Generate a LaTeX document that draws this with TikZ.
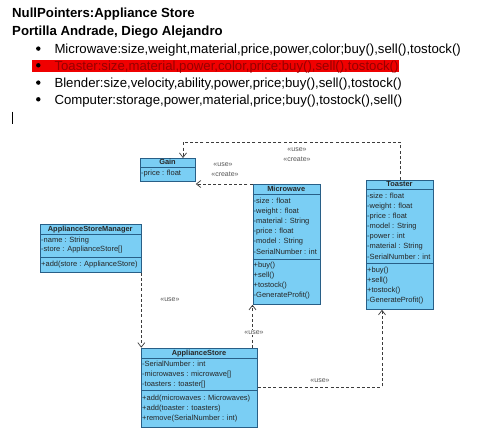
\documentclass[tikz,border=0pt]{standalone}
\usepackage{fontspec}
\setmainfont{Liberation Sans}
\usetikzlibrary{arrows.meta,backgrounds}
\definecolor{clsfill}{RGB}{122,206,244}
\definecolor{clsdraw}{RGB}{40,95,135}
\definecolor{hlred}{RGB}{240,0,0}
\definecolor{hltext}{RGB}{150,0,0}
\definecolor{deptext}{RGB}{85,85,85}
\definecolor{depline}{RGB}{60,60,60}
\tikzset{
  cls/.style={draw=clsdraw, fill=clsfill, line width=0.8pt, inner sep=0pt, anchor=north west},
  sep/.style={draw=clsdraw, line width=0.8pt},
  attr/.style={anchor=west, inner sep=0pt, font=\fontsize{7.5}{8}\selectfont, text height=5.4pt, text depth=1.6pt, text=black!85},
  hdr/.style={inner sep=0pt, font=\fontsize{7.4}{8}\selectfont\bfseries, text height=5.4pt, text depth=1.6pt, text=black!85},
  dep/.style={draw=depline, line width=0.7pt, dash pattern=on 3pt off 2.2pt, -{Straight Barb[length=4.5pt,width=7pt,line width=0.7pt]}},
  deplbl/.style={inner sep=0.6pt, fill=white, font=\fontsize{7}{8}\selectfont, text=deptext},
  title/.style={anchor=base west, inner sep=0pt, font=\fontsize{13.2}{15}\selectfont\bfseries},
  item/.style={anchor=base west, inner sep=0pt, font=\fontsize{13.2}{15}\selectfont},
}
\begin{document}
\begin{tikzpicture}[x=1pt,y=-1pt]
\useasboundingbox (0,0) rectangle (482,440);
% ---------- text block ----------
\node[title] (l1) at (12,17.3) {NullPointers:Appliance Store};
\node[title] (l2) at (12,35) {Portilla Andrade, Diego Alejandro};
\node[item] (b1) at (54.3,53.3) {Microwave:size,weight,material,price,power,color;buy(),sell(),tostock()};
\node[item, text=hltext] (b2) at (54.3,70) {Toaster:size,material,power,color,price;buy(),sell(),tostock()};
\node[item] (b3) at (54.3,87.3) {Blender:size,velocity,ability,power,price;buy(),sell(),tostock()};
\node[item] (b4) at (54.3,104) {Computer:storage,power,material,price;buy(),tostock(),sell()};
\begin{scope}[on background layer]
\fill[white] (0,0) rectangle (482,440);
\fill[hlred] (32.3,60) rectangle (b2.east |- 0,71.7);
\end{scope}
\fill[black] (38.3,48.6) circle (2.2);
\fill[black] (38.3,65.3) circle (2.2);
\fill[black] (38.3,82.6) circle (2.2);
\fill[black] (38.3,99.3) circle (2.2);
\draw[black, line width=0.9pt] (12.3,111.7) -- (12.3,124);
% ---------- Gain ----------
\node[cls, minimum width=55pt, minimum height=23pt] (gain) at (140,158) {};
\draw[sep] (140,167.7) -- (195,167.7);
\node[hdr] (gainh) at (167.5,162.8) {Gain};
\node[attr] (gaina1) at (141,174) {-price : float};
% ---------- Microwave ----------
\node[cls, minimum width=67.5pt, minimum height=120pt] (mw) at (252.5,184) {};
\draw[sep] (252.5,194.3) -- (320,194.3);
\draw[sep] (252.5,259) -- (320,259);
\node[hdr] (mwh) at (286.25,189.4) {Microwave};
\node[attr] (mwa1) at (253.5,201.7) {-size : float};
\node[attr] (mwa2) at (253.5,211.7) {-weight : float};
\node[attr] (mwa3) at (253.5,221.8) {-material : String};
\node[attr] (mwa4) at (253.5,231.8) {-price : float};
\node[attr] (mwa5) at (253.5,242) {-model : String};
\node[attr] (mwa6) at (253.5,252.2) {-SerialNumber : int};
\node[attr] (mwm1) at (253.5,266) {+buy()};
\node[attr] (mwm2) at (253.5,276) {+sell()};
\node[attr] (mwm3) at (253.5,285.8) {+tostock()};
\node[attr] (mwm4) at (253.5,295.8) {-GenerateProfit()};
% ---------- Toaster ----------
\node[cls, minimum width=67pt, minimum height=129.5pt] (ts) at (366,179.5) {};
\draw[sep] (366,189.3) -- (433,189.3);
\draw[sep] (366,263.7) -- (433,263.7);
\node[hdr] (tsh) at (399.5,184.5) {Toaster};
\node[attr] (tsa1) at (367,196.1) {-size : float};
\node[attr] (tsa2) at (367,206.3) {-weight : float};
\node[attr] (tsa3) at (367,216.4) {-price : float};
\node[attr] (tsa4) at (367,226.7) {-model : String};
\node[attr] (tsa5) at (367,236.9) {-power : int};
\node[attr] (tsa6) at (367,247) {-material : String};
\node[attr] (tsa7) at (367,257.2) {-SerialNumber : int};
\node[attr] (tsm1) at (367,270.2) {+buy()};
\node[attr] (tsm2) at (367,280.3) {+sell()};
\node[attr] (tsm3) at (367,290.6) {+tostock()};
\node[attr] (tsm4) at (367,301) {-GenerateProfit()};
% ---------- ApplianceStoreManager ----------
\node[cls, minimum width=100.5pt, minimum height=48pt] (asm) at (40,224) {};
\draw[sep] (40,234.3) -- (140.5,234.3);
\draw[sep] (40,257) -- (140.5,257);
\node[hdr] (asmh) at (90.25,229.3) {ApplianceStoreManager};
\node[attr] (asma1) at (41,240.5) {-name : String};
\node[attr] (asma2) at (41,250) {-store : ApplianceStore[]};
\node[attr] (asmm1) at (41,264.5) {+add(store : ApplianceStore)};
% ---------- ApplianceStore ----------
\node[cls, minimum width=116pt, minimum height=79.6pt] (store) at (141,347.7) {};
\draw[sep] (141,358.7) -- (257,358.7);
\draw[sep] (141,390.7) -- (257,390.7);
\node[hdr] (storeh) at (199,353.3) {ApplianceStore};
\node[attr] (storea1) at (142,364.3) {-SerialNumber : int};
\node[attr] (storea2) at (142,374.7) {-microwaves : microwave[]};
\node[attr] (storea3) at (142,385) {-toasters : toaster[]};
\node[attr] (storem1) at (142,398.7) {+add(microwaves : Microwaves)};
\node[attr] (storem2) at (142,408.7) {+add(toaster : toasters)};
\node[attr] (storem3) at (142,418.3) {+remove(SerialNumber : int)};
% ---------- connectors ----------
\draw[dep] (mw.north west) -- (gain.south east |- mw.north west);
\node[deplbl] (lbl1) at (223,164.3) {<<use>>};
\node[deplbl] (lbl2) at (225,174) {<<create>>};
\coordinate (c1) at (183,142);
\draw[dep] (ts.north) |- (c1) -- (gain.north -| c1);
\node[deplbl] (lbl3) at (297,149.5) {<<use>>};
\node[deplbl] (lbl4) at (297,159.3) {<<create>>};
\draw[dep] (asm.south east) -- (asm.south east |- store.north);
\node[deplbl] (lbl5) at (170,300) {<<use>>};
\draw[dep] (mw.south west |- store.north) -- (mw.south west);
\node[deplbl] (lbl6) at (254,332.3) {<<use>>};
\coordinate (c2) at (382,387);
\draw[dep] (store.east |- c2) -| (ts.south -| c2);
\node[deplbl] (lbl7) at (320,381) {<<use>>};
\end{tikzpicture}
\end{document}
